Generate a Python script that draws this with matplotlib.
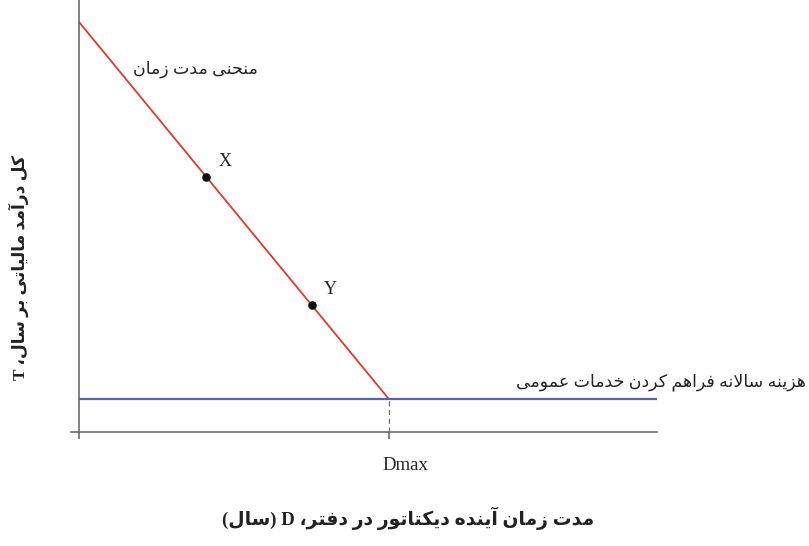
import matplotlib
matplotlib.use('Agg')
import matplotlib.pyplot as plt

# ---- data ----
curve_d = [0, 10]          # duration curve, D
curve_t = [100, 8]         # duration curve, T
cost_level = 8             # annual cost of public services
dmax = 10
point_d = [4.1, 7.5]
point_t = [62.3, 31.0]
point_names = ['X', 'Y']

curve_label = 'منحنی مدت زمان'
cost_label = 'هزینه سالانه فراهم کردن خدمات عمومی'
x_label = 'مدت زمان آینده دیکتاتور در دفتر، D (سال)'
y_label = 'کل درآمد مالیاتی بر سال، T'
dmax_label = 'Dmax'

# ---- small persian shaper (matplotlib does no arabic shaping) ----
# isolated, final, initial, medial
FORMS = {
    'ا': ('\uFE8D', '\uFE8E', None, None),
    'آ': ('\uFE81', '\uFE82', None, None),
    'د': ('\uFEA9', '\uFEAA', None, None),
    'ر': ('\uFEAD', '\uFEAE', None, None),
    'ز': ('\uFEAF', '\uFEB0', None, None),
    'و': ('\uFEED', '\uFEEE', None, None),
    'ب': ('\uFE8F', '\uFE90', '\uFE91', '\uFE92'),
    'ت': ('\uFE95', '\uFE96', '\uFE97', '\uFE98'),
    'ح': ('\uFEA1', '\uFEA2', '\uFEA3', '\uFEA4'),
    'خ': ('\uFEA5', '\uFEA6', '\uFEA7', '\uFEA8'),
    'س': ('\uFEB1', '\uFEB2', '\uFEB3', '\uFEB4'),
    'ع': ('\uFEC9', '\uFECA', '\uFECB', '\uFECC'),
    'ف': ('\uFED1', '\uFED2', '\uFED3', '\uFED4'),
    'ل': ('\uFEDD', '\uFEDE', '\uFEDF', '\uFEE0'),
    'م': ('\uFEE1', '\uFEE2', '\uFEE3', '\uFEE4'),
    'ن': ('\uFEE5', '\uFEE6', '\uFEE7', '\uFEE8'),
    'ه': ('\uFEE9', '\uFEEA', '\uFEEB', '\uFEEC'),
    'ک': ('\uFB8E', '\uFB8F', '\uFB90', '\uFB91'),
    'ی': ('\uFBFC', '\uFBFD', '\uFBFE', '\uFBFF'),
}
MIRROR = {'(': ')', ')': '('}


def shape_word(word):
    out = []
    prev_joins = False
    i = 0
    while i < len(word):
        c = word[i]
        if c not in FORMS:
            out.append(MIRROR.get(c, c))
            prev_joins = False
            i += 1
            continue
        if c == 'ل' and i + 1 < len(word) and word[i + 1] == 'ا':
            out.append('\uFEFC' if prev_joins else '\uFEFB')
            prev_joins = False
            i += 2
            continue
        iso, fin, ini, med = FORMS[c]
        nxt = word[i + 1] if i + 1 < len(word) else None
        next_ok = ini is not None and nxt in FORMS
        if prev_joins and next_ok:
            g = med
        elif prev_joins:
            g = fin
        elif next_ok:
            g = ini
        else:
            g = iso
        out.append(g)
        prev_joins = next_ok
        i += 1
    return ''.join(reversed(out))


def rtl(text):
    # visual order, right-to-left words
    return ' '.join(reversed([shape_word(w) for w in text.split(' ')]))


fams = ['Liberation Serif', 'DejaVu Sans']

fig = plt.figure(figsize=(8.09, 5.46), dpi=100)
W, H = 809, 546
ax = fig.add_axes([71 / W, (H - 432) / H, (657 - 71) / W, 432 / H])

px_x = 31.0   # pixels per unit D
px_y = 4.1    # pixels per unit T
ax.set_xlim(-8 / px_x, (657 - 79) / px_x)
ax.set_ylim(0, 432 / px_y)

grey = '#6b6b6b'
ax.plot(curve_d, curve_t, color='#e3392b', lw=1.3, solid_capstyle='butt')
ax.plot([0, ax.get_xlim()[1]], [cost_level, cost_level], color='#5862b0',
        lw=1.6, solid_capstyle='butt')
ax.plot([dmax, dmax], [0, cost_level], color=grey, lw=0.9, ls=(0, (4, 3)))
ax.plot(point_d, point_t, 'o', color='#111111', ms=5.2)

for d, t, n in zip(point_d, point_t, point_names):
    ax.annotate(n, (d, t), xytext=(13.5, 11), textcoords='offset points',
                ha='center', va='center', fontsize=13, family=fams, color='#222222')

for s in ['top', 'right']:
    ax.spines[s].set_visible(False)
ax.spines['left'].set_position(('data', 0))
ax.spines['left'].set_color(grey)
ax.spines['bottom'].set_color(grey)
ax.spines['left'].set_linewidth(1.2)
ax.spines['bottom'].set_linewidth(1.2)
ax.set_yticks([])
ax.set_xticks([0, dmax])
ax.set_xticklabels(['', ''])
ax.tick_params(axis='x', direction='out', length=5, width=1.2, color=grey)

fig.text(405 / W, 1 - 466 / H, dmax_label, ha='center', va='center',
         fontsize=13.5, family=fams, color='#222222')
fig.text(195 / W, 1 - 69 / H, rtl(curve_label), ha='center', va='center',
         fontsize=12.5, family=fams, color='#222222')
fig.text(806 / W, 1 - 382 / H, rtl(cost_label), ha='right', va='center',
         fontsize=12.5, family=fams, color='#222222')
fig.text(408 / W, 1 - 518 / H, rtl(x_label), ha='center', va='center',
         fontsize=13.5, family=fams, weight='bold', color='#222222')
fig.text(19 / W, 1 - 267 / H, rtl(y_label), ha='center', va='center',
         rotation=90, fontsize=12.3, family=fams, weight='bold', color='#222222')

fig.savefig('out.png', dpi=100)
